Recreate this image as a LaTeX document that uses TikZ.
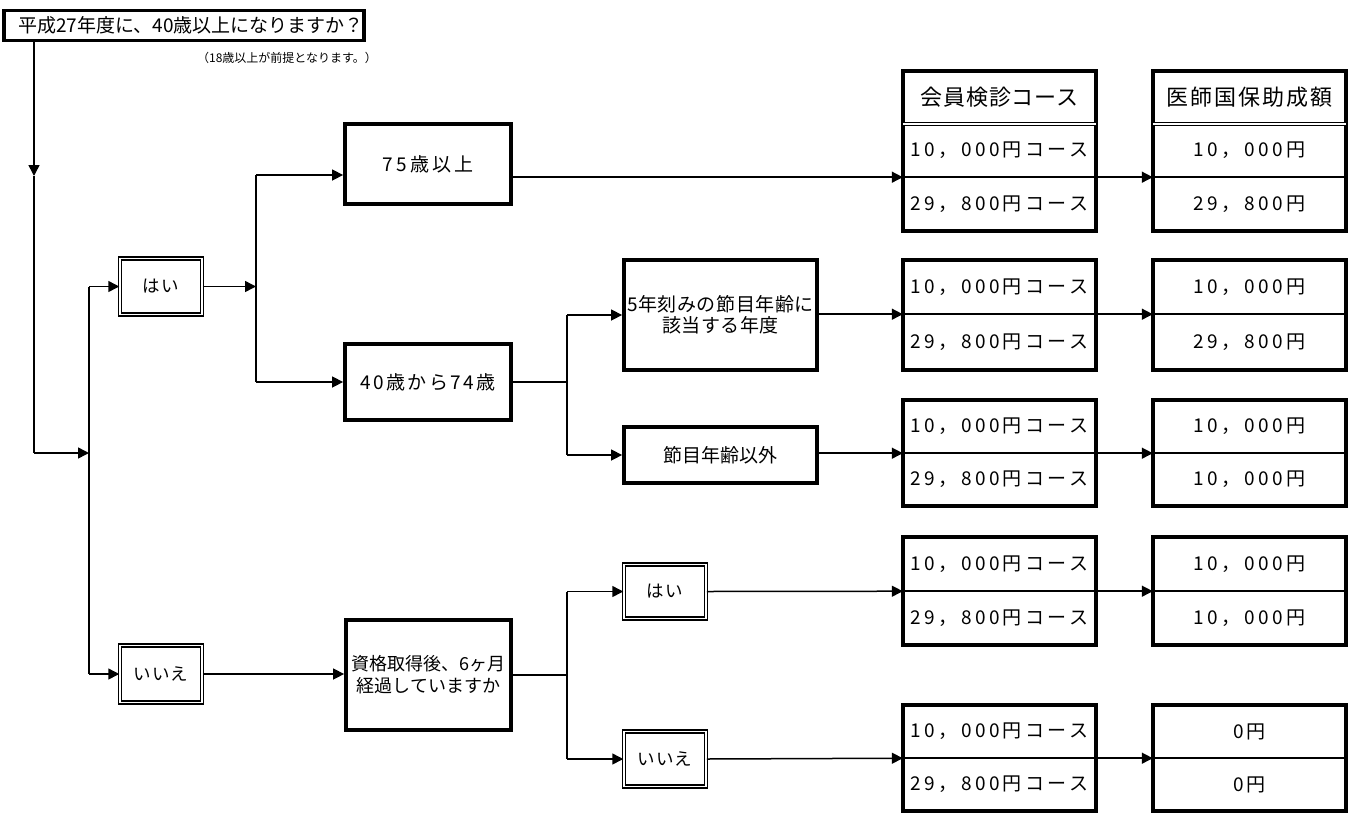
\documentclass[tikz,border=0pt]{standalone}
\usepackage{fontspec}
\setmainfont{Noto Sans CJK JP}
\usetikzlibrary{arrows.meta,calc}
\newcommand\mktbl[7]{%
  \node[cell,minimum height={(#4)-(#3)}] (#1a) at (#2,{((#3)+(#4))/2}) {#6};
  \node[cell,minimum height={(#5)-(#4)}] (#1b) at (#2,{((#4)+(#5))/2}) {#7};
  \draw[rowline] (#1a.south west) -- (#1a.south east);
}
\begin{document}
\begin{tikzpicture}[x=1pt,y=-1pt,
  conn/.style={line width=1.5pt},
  arr/.style={conn,-{Triangle[length=11pt,width=11pt]}},
  thickbox/.style={draw,line width=3.8pt,inner sep=0pt,align=center},
  dbox/.style={draw,double,double distance=1.8pt,line width=1.5pt,inner sep=0pt,
    minimum width=82pt,font={\fontsize{17.5}{20}\selectfont\addfontfeature{LetterSpace=6}}},
  cell/.style={inner sep=0pt,minimum width=193pt,font={\fontsize{19}{22}\selectfont\addfontfeature{LetterSpace=18}}},
  hcell/.style={inner sep=0pt,minimum width=193pt,font={\fontsize{22}{24}\selectfont\addfontfeature{LetterSpace=4}}},
  tblout/.style={line width=3.8pt},
  rowline/.style={line width=1.5pt},
  hdrline/.style={double,double distance=1.6pt,line width=1pt},
  f19/.style={font=\fontsize{19}{22}\selectfont}
]
\useasboundingbox (0,0) rectangle (1356,814);

% title
\node[thickbox,f19,minimum width=348pt,minimum height=30pt] (title) at (184,25.5)
  {\hspace*{14pt}平成27年度に、40歳以上になりますか？};
\node[font=\fontsize{12}{14}\selectfont,inner sep=0pt] (sub) at (287,58)
  {（18歳以上が前提となります。）};

% yes/no level 1
\node[dbox,minimum height=56pt] (hai1) at (161,286.5) {はい};
\node[dbox,minimum height=57pt] (iie1) at (161,674) {いいえ};

% middle boxes
\node[thickbox,font={\fontsize{19}{22}\selectfont\addfontfeature{LetterSpace=17}},minimum width=166pt,minimum height=80pt] (b75) at (428,164) {75歳以上};
\node[thickbox,font={\fontsize{19}{22}\selectfont\addfontfeature{LetterSpace=12}},minimum width=166pt,minimum height=76pt] (b40) at (428,382) {40歳から74歳};
\node[thickbox,font={\fontsize{19}{21}\selectfont\addfontfeature{LetterSpace=3}},minimum width=193pt,minimum height=110pt] (b5) at (720.5,315)
  {5年刻みの節目年齢に\\該当する年度};
\node[thickbox,f19,minimum width=193pt,minimum height=56pt] (bfs) at (720.5,455) {節目年齢以外};
\node[thickbox,font=\fontsize{18}{22}\selectfont,minimum width=165pt,minimum height=110pt] (bq) at (428.5,675)
  {資格取得後、6ヶ月\\経過していますか};
\node[dbox,minimum height=54pt] (hai2) at (665,591.5) {はい};
\node[dbox,minimum height=55pt] (iie2) at (665,759) {いいえ};

% tables
\node[hcell,minimum height=53pt] (c1h) at (999.5,97.5) {会員検診コース};
\node[hcell,minimum height=53pt,font={\fontsize{22}{24}\selectfont\addfontfeature{LetterSpace=9}}] (a1h) at (1249.5,97.5) {医師国保助成額};
\mktbl{c1}{999.5}{124}{177}{231}{10，000円コース}{29，800円コース}
\mktbl{a1}{1249.5}{124}{177}{231}{10，000円}{29，800円}
\mktbl{c2}{999.5}{260}{314}{370}{10，000円コース}{29，800円コース}
\mktbl{a2}{1249.5}{260}{314}{370}{10，000円}{29，800円}
\mktbl{c3}{999.5}{400}{453}{506}{10，000円コース}{29，800円コース}
\mktbl{a3}{1249.5}{400}{453}{506}{10，000円}{10，000円}
\mktbl{c4}{999.5}{537}{591}{645}{10，000円コース}{29，800円コース}
\mktbl{a4}{1249.5}{537}{591}{645}{10，000円}{10，000円}
\mktbl{c5}{999.5}{705}{758}{811}{10，000円コース}{29，800円コース}
\mktbl{a5}{1249.5}{705}{758}{811}{0円}{0円}
\draw[tblout] (c1h.north west) rectangle (c1b.south east);
\draw[tblout] (a1h.north west) rectangle (a1b.south east);
\draw[hdrline] (c1h.south west) -- (c1h.south east);
\draw[hdrline] (a1h.south west) -- (a1h.south east);
\foreach \i in {2,...,5}{
  \draw[tblout] (c\i a.north west) rectangle (c\i b.south east);
  \draw[tblout] (a\i a.north west) rectangle (a\i b.south east);
}

% connectors
\coordinate (j0) at (34,453);
\coordinate (m0) at (34,176);
\coordinate (j1) at (89,453);
\draw[arr] (title.south -| j0) -- (m0);
\draw[conn] (m0) -- (j0);
\draw[arr] (j0) -- (j1);
\draw[conn] (j1 |- hai1.west) -- (j1 |- iie1.west);
\draw[arr] (j1 |- hai1.west) -- (hai1.west);
\draw[arr] (j1 |- iie1.west) -- (iie1.west);

\coordinate (j2) at (256,287);
\coordinate (k75) at (256,175);
\draw[arr] (hai1.east) -- (hai1.east -| j2);
\draw[conn] (k75) -- (j2 |- b40.west);
\draw[arr] (k75) -- (k75 -| b75.west);
\draw[arr] (j2 |- b40.west) -- (b40.west);
\draw[arr] (b75.east |- c1a.south) -- (c1a.south west);

\coordinate (j3) at (567,382);
\draw[conn] (b40.east) -- (b40.east -| j3);
\draw[conn] (j3 |- b5.west) -- (j3 |- bfs.west);
\draw[arr] (j3 |- b5.west) -- (b5.west);
\draw[arr] (j3 |- bfs.west) -- (bfs.west);
\draw[arr] (b5.east |- c2a.south) -- (c2a.south west);
\draw[arr] (bfs.east |- c3a.south) -- (c3a.south west);

\draw[arr] (iie1.east) -- (iie1.east -| bq.west);
\coordinate (j4) at (567,675);
\draw[conn] (bq.east) -- (bq.east -| j4);
\draw[conn] (j4 |- hai2.west) -- (j4 |- iie2.west);
\draw[arr] (j4 |- hai2.west) -- (hai2.west);
\draw[arr] (j4 |- iie2.west) -- (iie2.west);
\draw[arr] (hai2.east) -- (c4a.south west);
\draw[arr] (iie2.east) -- (c5a.south west);

\foreach \i in {1,...,5}{
  \draw[arr] (c\i a.south east) -- (a\i a.south west);
}
\end{tikzpicture}
\end{document}
